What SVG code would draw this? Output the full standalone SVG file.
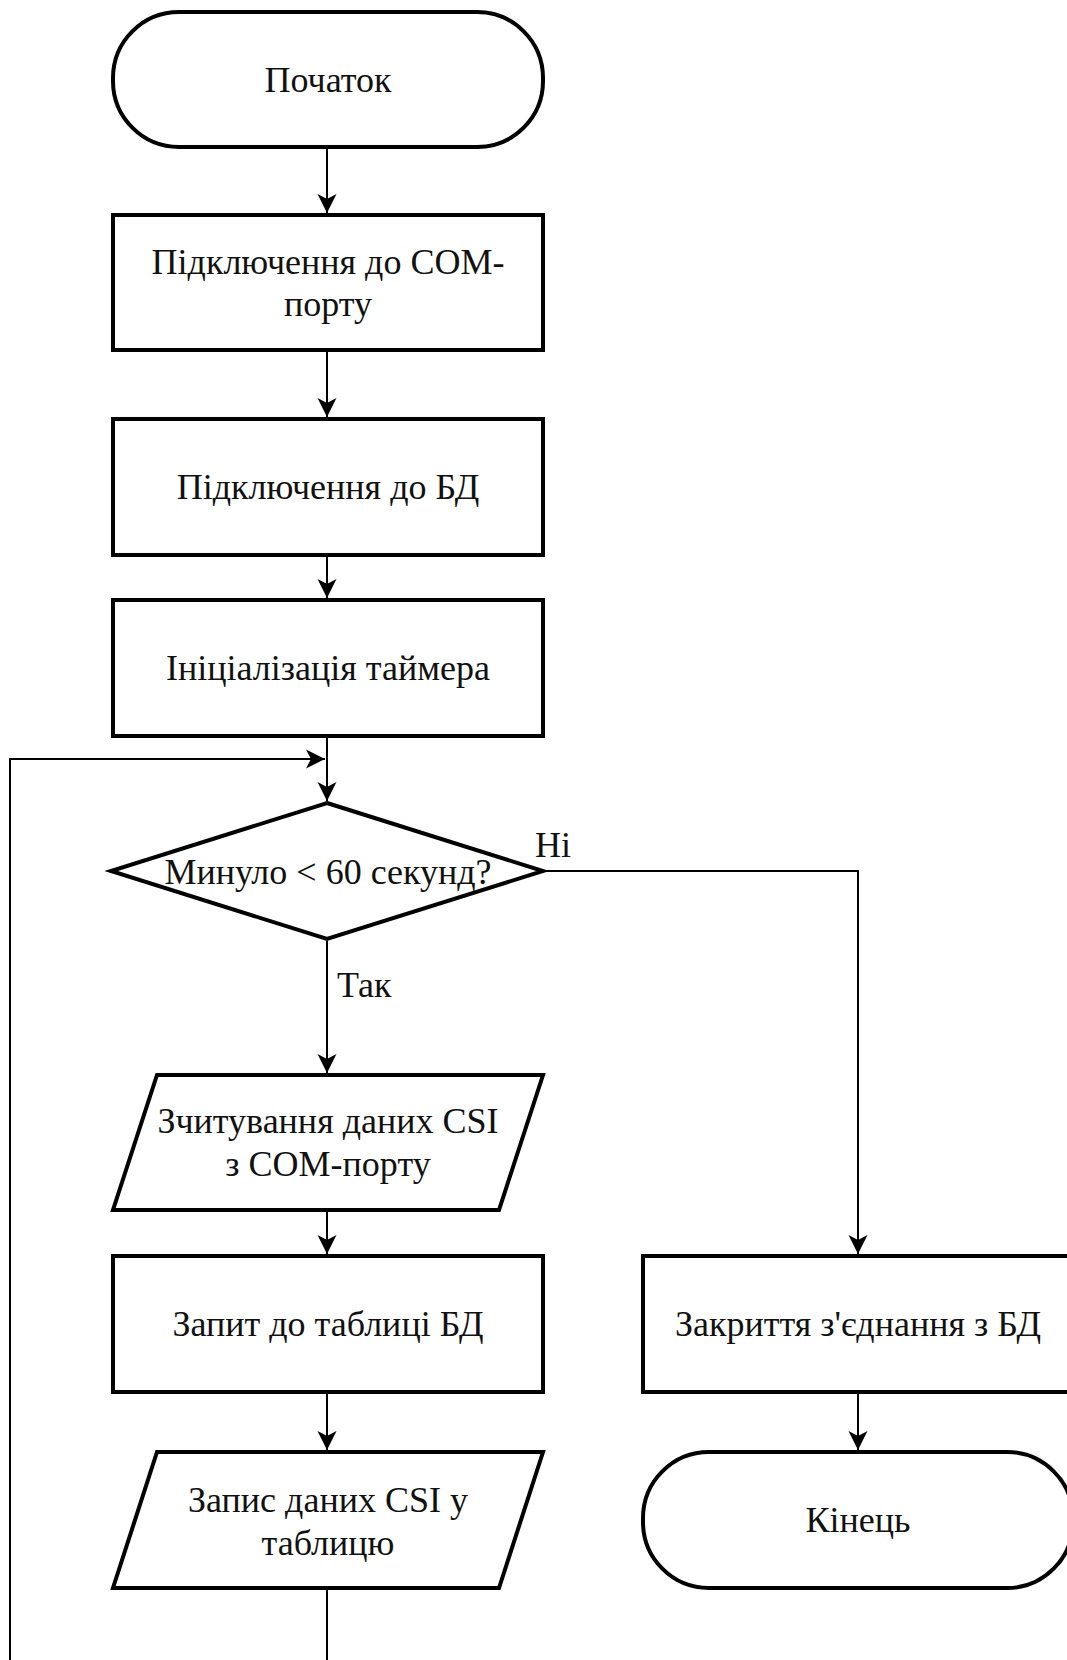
<svg xmlns="http://www.w3.org/2000/svg" width="1067" height="1660" viewBox="0 0 1067 1660">
  <style>
    .node { fill: #ffffff; stroke: #000000; stroke-width: 4; }
    .conn { fill: none; stroke: #000000; stroke-width: 2; }
    .label { font-family: "Liberation Serif", "Times New Roman", serif; font-size: 36px; fill: #111111; text-anchor: middle; }
    .elabel { font-family: "Liberation Serif", "Times New Roman", serif; font-size: 36px; fill: #111111; text-anchor: start; }
  </style>
  <defs>
    <marker id="arrow" markerUnits="userSpaceOnUse" markerWidth="20" markerHeight="20" viewBox="-19 -10 20 20" refX="0" refY="0" orient="auto">
      <path d="M0,0 L-19,-9.5 L-14,0 L-19,9.5 Z" fill="#000000"/>
    </marker>
  </defs>
  <rect x="0" y="0" width="1067" height="1660" fill="#ffffff"/>

  <g id="connectors">
    <line class="conn" x1="327" y1="148" x2="327" y2="213" marker-end="url(#arrow)"/>
    <line class="conn" x1="327" y1="352" x2="327" y2="417" marker-end="url(#arrow)"/>
    <line class="conn" x1="327" y1="557" x2="327" y2="598" marker-end="url(#arrow)"/>
    <line class="conn" x1="327" y1="738" x2="327" y2="801" marker-end="url(#arrow)"/>
    <line class="conn" x1="327" y1="941" x2="327" y2="1073" marker-end="url(#arrow)"/>
    <line class="conn" x1="327" y1="1212" x2="327" y2="1254" marker-end="url(#arrow)"/>
    <line class="conn" x1="327" y1="1394" x2="327" y2="1450" marker-end="url(#arrow)"/>
    <line class="conn" x1="327" y1="1590" x2="327" y2="1660"/>
    <polyline class="conn" points="10,1660 10,759 325,759" marker-end="url(#arrow)"/>
    <polyline class="conn" points="545,871 858,871 858,1254" marker-end="url(#arrow)"/>
    <line class="conn" x1="858" y1="1394" x2="858" y2="1450" marker-end="url(#arrow)"/>
    <text class="elabel" x="535" y="857">Ні</text>
    <text class="elabel" x="337" y="997">Так</text>
  </g>

  <g id="start">
    <rect class="node" x="113" y="12" width="430" height="135" rx="66" ry="66"/>
    <text class="label" x="328" y="92">Початок</text>
  </g>

  <g id="connect-com">
    <rect class="node" x="113" y="215" width="430" height="135"/>
    <text class="label" x="328" y="274">Підключення до COM-</text>
    <text class="label" x="328" y="316">порту</text>
  </g>

  <g id="connect-db">
    <rect class="node" x="113" y="419" width="430" height="136"/>
    <text class="label" x="328" y="499">Підключення до БД</text>
  </g>

  <g id="init-timer">
    <rect class="node" x="113" y="600" width="430" height="136"/>
    <text class="label" x="328" y="680">Ініціалізація таймера</text>
  </g>

  <g id="decision">
    <polygon class="node" points="327,803 543,871 327,939 111,871"/>
    <text class="label" x="328" y="884">Минуло &lt; 60 секунд?</text>
  </g>

  <g id="read-csi">
    <polygon class="node" points="157,1075 543,1075 499,1210 113,1210"/>
    <text class="label" x="328" y="1133">Зчитування даних CSI</text>
    <text class="label" x="328" y="1176">з COM-порту</text>
  </g>

  <g id="query-table">
    <rect class="node" x="113" y="1256" width="430" height="136"/>
    <text class="label" x="328" y="1336">Запит до таблиці БД</text>
  </g>

  <g id="write-csi">
    <polygon class="node" points="157,1452 543,1452 499,1588 113,1588"/>
    <text class="label" x="328" y="1512">Запис даних CSI у</text>
    <text class="label" x="328" y="1555">таблицю</text>
  </g>

  <g id="close-db">
    <rect class="node" x="643" y="1256" width="430" height="136"/>
    <text class="label" x="858" y="1336">Закриття з'єднання з БД</text>
  </g>

  <g id="end">
    <rect class="node" x="643" y="1452" width="430" height="136" rx="66" ry="66"/>
    <text class="label" x="858" y="1532">Кінець</text>
  </g>
</svg>
